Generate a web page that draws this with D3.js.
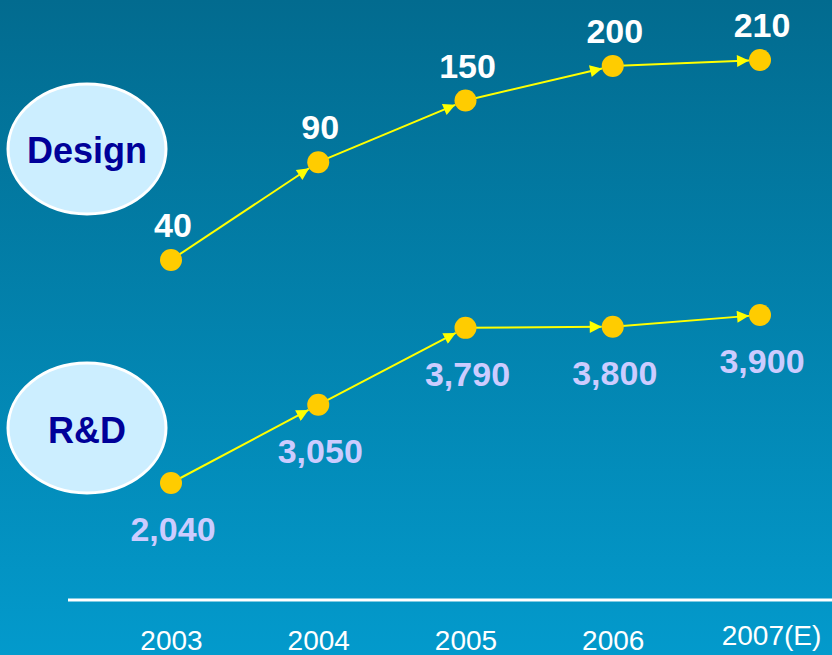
<!DOCTYPE html>
<html>
<head>
<meta charset="utf-8">
<script src="https://cdn.jsdelivr.net/npm/d3@7"></script>
<style>
  html, body { margin: 0; padding: 0; background: #0a85b0; }
  svg { display: block; }
</style>
</head>
<body>
<svg id="chart" width="832" height="655"></svg>
<script>
// Year categories shown along the bottom axis
const years = ["2003", "2004", "2005", "2006", "2007(E)"];
// Design headcount per year
const designValues = [40, 90, 150, 200, 210];
// R&D headcount per year
const rdValues = [2040, 3050, 3790, 3800, 3900];
// Series names shown in the ovals
const seriesNames = ["Design", "R&D"];

const W = 832, H = 655;
const svg = d3.select("#chart");

// Background gradient
const defs = svg.append("defs");
const grad = defs.append("linearGradient")
  .attr("id", "bg").attr("x1", 0).attr("y1", 0).attr("x2", 0).attr("y2", 1);
grad.append("stop").attr("offset", "0%").attr("stop-color", "#026b8f");
grad.append("stop").attr("offset", "100%").attr("stop-color", "#039acc");
svg.append("rect").attr("width", W).attr("height", H).attr("fill", "url(#bg)");

// Arrowhead marker
defs.append("marker")
  .attr("id", "arrow")
  .attr("viewBox", "0 0 10 10")
  .attr("refX", 10).attr("refY", 5)
  .attr("markerUnits", "userSpaceOnUse")
  .attr("markerWidth", 15).attr("markerHeight", 12)
  .attr("orient", "auto")
  .append("path").attr("d", "M0,0 L10,5 L0,10 Z").attr("fill", "#ffff00");

// Horizontal position per year
const x = d3.scalePoint().domain(years).range([171, 760]);

// Each series has its own vertical band
const yDesign = d3.scaleLog().domain([40, 210]).range([260, 60]);
const yRD = d3.scalePow().exponent(2).domain([2040, 3900]).range([483, 315]);

// Bottom axis: plain white rule with year labels
const axis = d3.axisBottom(x).tickSize(0).tickPadding(0);
const axisG = svg.append("g").attr("transform", "translate(0,600)").call(axis);
axisG.select(".domain").remove();
axisG.selectAll("text")
  .attr("font-family", "Liberation Sans, Arial, sans-serif")
  .attr("font-size", 28)
  .attr("fill", "#ffffff")
  .attr("dy", null)
  .attr("y", (d) => d === "2007(E)" ? 45 : 50)
  .attr("dx", (d) => d === "2007(E)" ? 11 : 0);
svg.append("line")
  .attr("x1", 68).attr("x2", W).attr("y1", 600).attr("y2", 600)
  .attr("stroke", "#ffffff").attr("stroke-width", 3);

const R = 11;

function drawSeries(values, yScale, labelColor, labelDy, fontSize) {
  const pts = values.map((v, i) => ({ v, x: x(years[i]), y: yScale(v) }));
  const g = svg.append("g");
  // arrows between consecutive points, ending at the next dot's edge
  d3.pairs(pts).forEach(([a, b]) => {
    const dx = b.x - a.x, dy = b.y - a.y, len = Math.hypot(dx, dy);
    g.append("line")
      .attr("x1", a.x).attr("y1", a.y)
      .attr("x2", b.x - dx / len * R).attr("y2", b.y - dy / len * R)
      .attr("stroke", "#ffff00").attr("stroke-width", 2)
      .attr("marker-end", "url(#arrow)");
  });
  g.selectAll("circle").data(pts).join("circle")
    .attr("cx", (d) => d.x).attr("cy", (d) => d.y).attr("r", R)
    .attr("fill", "#ffcc00");
  g.selectAll("text").data(pts).join("text")
    .attr("x", (d) => d.x + 2).attr("y", (d) => d.y + labelDy)
    .attr("text-anchor", "middle")
    .attr("font-family", "Liberation Sans, Arial, sans-serif")
    .attr("font-weight", "bold")
    .attr("font-size", fontSize)
    .attr("fill", labelColor)
    .text((d) => d3.format(",")(d.v));
}

drawSeries(designValues, yDesign, "#ffffff", -23, 34);
drawSeries(rdValues, yRD, "#ccccff", 58, 34);

// Series ovals
const ovals = [
  { name: seriesNames[0], cy: 149, base: 163 },
  { name: seriesNames[1], cy: 428, base: 443 }
];
const og = svg.selectAll("g.oval").data(ovals).join("g").attr("class", "oval");
og.append("ellipse")
  .attr("cx", 87).attr("cy", (d) => d.cy).attr("rx", 79).attr("ry", 65)
  .attr("fill", "#cceeff").attr("stroke", "#ffffff").attr("stroke-width", 3);
og.append("text")
  .attr("x", 87).attr("y", (d) => d.base)
  .attr("text-anchor", "middle")
  .attr("font-family", "Liberation Sans, Arial, sans-serif")
  .attr("font-weight", "bold").attr("font-size", 36)
  .attr("fill", "#000099")
  .text((d) => d.name);
</script>
</body>
</html>
